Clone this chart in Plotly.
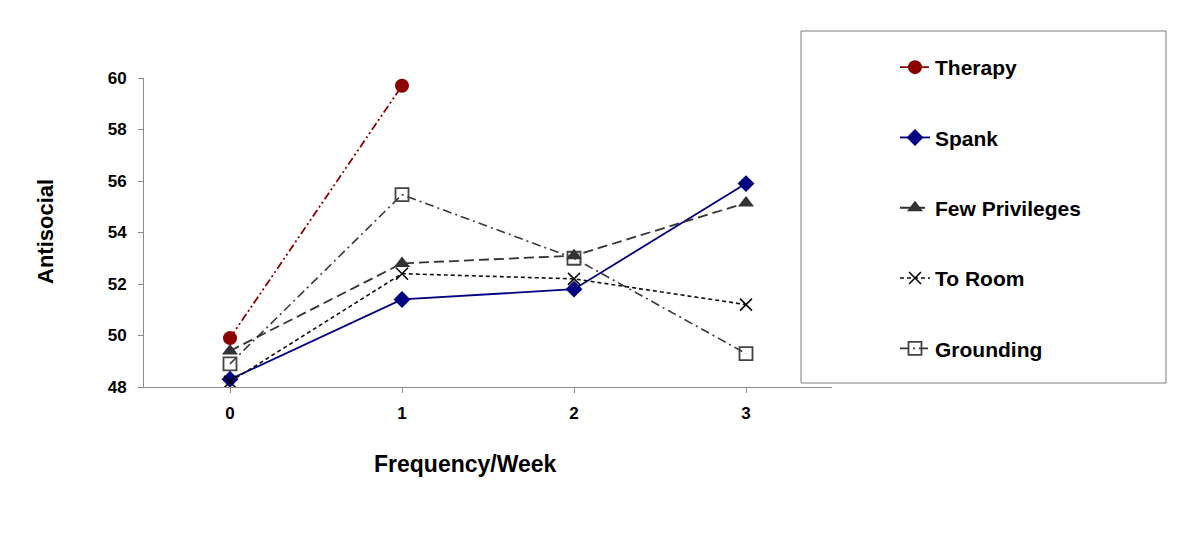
import plotly.graph_objects as go

categories = [0, 1, 2, 3]
tick_labels = ["0", "1", "2", "3"]

therapy = [49.9, 59.7]
spank = [48.3, 51.4, 51.8, 55.9]
few_privileges = [49.4, 52.8, 53.1, 55.15]
to_room = [48.2, 52.4, 52.2, 51.2]
grounding = [48.9, 55.47, 53.0, 49.3]

FONT = "Liberation Sans, Arial, sans-serif"

# page body has an 8px margin; plot area target in screenshot: x 144..832, y 78..387
OFF = 8
PL, PR, PT, PB = 144, 832, 78, 387
PW, PH = PR - PL, PB - PT


def px(x):
    return (x - PL) / PW


def py(y):
    return (PB - y) / PH


fig = go.Figure()

fig.add_trace(go.Scatter(
    x=categories, y=grounding, name="Grounding", mode="lines+markers", legendrank=5,
    line=dict(color="#3a3a3a", width=1.6, dash="9px,4px,2px,4px"),
    marker=dict(symbol="square-open", size=13, color="#444444", line=dict(width=1.8, color="#444444")),
))
fig.add_trace(go.Scatter(
    x=categories, y=spank, name="Spank", mode="lines+markers", legendrank=2,
    line=dict(color="#000080", width=1.8),
    marker=dict(symbol="diamond", size=13, color="#000080"),
))
fig.add_trace(go.Scatter(
    x=categories, y=few_privileges, name="Few Privileges", mode="lines+markers", legendrank=3,
    line=dict(color="#333333", width=1.8, dash="10px,5px"),
    marker=dict(symbol="triangle-up", size=14, color="#333333"),
))
fig.add_trace(go.Scatter(
    x=categories, y=to_room, name="To Room", mode="lines+markers", legendrank=4,
    line=dict(color="#111111", width=1.6, dash="4px,3px"),
    marker=dict(symbol="x-thin-open", size=12, color="#000000", line=dict(width=1.5, color="#000000")),
))
fig.add_trace(go.Scatter(
    x=categories[:len(therapy)], y=therapy, name="Therapy", mode="lines+markers", legendrank=1,
    line=dict(color="#8b0000", width=1.8, dash="8px,3px,2px,3px,2px,3px"),
    marker=dict(symbol="circle", size=14, color="#8b0000"),
))

for i, tr in enumerate(fig.data):
    tr.legendgroup = f"g{i}"

# legend frame
fig.add_shape(type="rect", xref="paper", yref="paper",
              x0=px(801), x1=px(1166), y0=py(383), y1=py(31),
              line=dict(color="#7f7f7f", width=1), fillcolor="rgba(0,0,0,0)")

fig.add_annotation(text="Frequency/Week", xref="paper", yref="paper",
                   x=px(465), y=py(464), xanchor="center", yanchor="middle", showarrow=False,
                   font=dict(family=FONT, size=23, color="#000000", weight="bold"))
fig.add_annotation(text="Antisocial", xref="paper", yref="paper", textangle=-90,
                   x=px(45), y=py(232), xanchor="center", yanchor="middle", showarrow=False,
                   font=dict(family=FONT, size=22, color="#000000", weight="bold"))

fig.update_layout(
    width=1200, height=533,
    margin=dict(l=PL - OFF, r=1200 - (PR - OFF), t=PT - OFF, b=533 - (PB - OFF), autoexpand=False),
    paper_bgcolor="white", plot_bgcolor="white",
    font=dict(family=FONT, color="#000000"),
    showlegend=True,
    legend=dict(
        x=px(895), y=py(47), xanchor="left", yanchor="top",
        traceorder="grouped", tracegroupgap=40, maxheight=480,
        font=dict(family=FONT, size=21, color="#000000", weight="bold"),
        bgcolor="rgba(0,0,0,0)", borderwidth=0,
    ),
    xaxis=dict(
        range=[-0.5, 3.5], tickmode="array", tickvals=categories, ticktext=tick_labels,
        showgrid=False, zeroline=False, showline=True, linecolor="#8c8c8c", linewidth=1,
        ticks="outside", ticklen=5, tickcolor="#8c8c8c", tickson="boundaries",
        ticklabelstandoff=6,
        tickfont=dict(family=FONT, size=17, color="#000000", weight="bold"),
    ),
    yaxis=dict(
        range=[48, 60], tickmode="array", tickvals=[48, 50, 52, 54, 56, 58, 60],
        showgrid=False, zeroline=False, showline=True, linecolor="#8c8c8c", linewidth=1,
        ticks="outside", ticklen=5, tickcolor="#8c8c8c", ticklabelstandoff=8,
        tickfont=dict(family=FONT, size=17, color="#000000", weight="bold"),
    ),
)

fig.write_html("out.html")
